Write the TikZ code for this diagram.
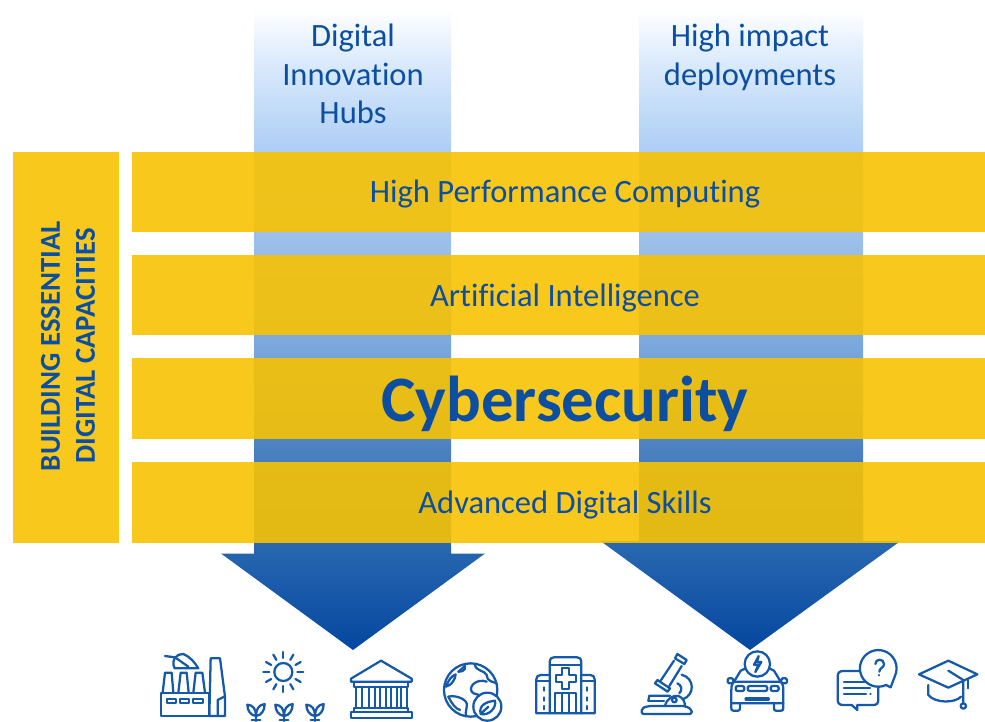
\documentclass[tikz,border=0pt]{standalone}
\usepackage{fontspec}
\setmainfont[Ligatures=NoCommon]{Carlito}
\definecolor{txtblue}{HTML}{0B4EA2}
\definecolor{icon}{HTML}{1559AB}
\definecolor{band}{RGB}{247,194,3}
\definecolor{g0}{HTML}{04479F}
\definecolor{g1}{HTML}{2A68B0}
\definecolor{g2}{HTML}{4A80C0}
\definecolor{g3}{HTML}{7BA8DC}
\definecolor{g4}{HTML}{9ABEE8}
\definecolor{g5}{HTML}{ADCEF5}
\definecolor{g6}{HTML}{DCEBFC}
\pgfdeclareverticalshading{arrowgrad}{100bp}{color(0bp)=(g0); color(25bp)=(g0); color(33.5bp)=(g1); color(40.5bp)=(g2); color(48.8bp)=(g3); color(56.5bp)=(g4); color(64bp)=(g5); color(71bp)=(g6); color(75bp)=(white); color(100bp)=(white)}
\tikzset{
  bandbox/.style={fill=band,fill opacity=0.9,draw=none},
  downarrow/.style={shading=arrowgrad,draw=none},
  txt/.style={text=txtblue,inner sep=0pt,anchor=base},
  small/.style={txt,font=\fontsize{24.4pt}{29pt}\selectfont},
  ic/.style={draw=icon,line width=1.7pt,line cap=round,line join=round},
  cropa/.style={shift={(150,640)},x=0.25pt,y=-0.25pt},
  cropb/.style={shift={(570,640)},x=0.25pt,y=-0.25pt},
  croph/.style={shift={(528,650)},x=0.25pt,y=-0.25pt}
}
\begin{document}
\begin{tikzpicture}[x=0.75pt,y=-0.75pt]
\useasboundingbox (0,0) rectangle (985,721);
% arrows
\path[downarrow] (254,9) -- (451,9) -- (451,553.5) -- (485,553.5) -- (353,650) -- (221,553.5) -- (254,553.5) -- cycle;
\path[downarrow] (639,9) -- (863,9) -- (863,541) -- (900.5,541) -- (750,650) -- (600.5,541) -- (639,541) -- cycle;
% bands
\fill[bandbox] (132,152) rectangle (985,232);
\fill[bandbox] (132,255) rectangle (985,335);
\fill[bandbox] (132,358) rectangle (985,439);
\fill[bandbox] (132,462) rectangle (985,543);
\fill[bandbox] (13,152) rectangle (119,543);
% texts
\node[small,anchor=center,align=center] (dih) at (353,74) {Digital\\Innovation\\Hubs};
\node[small,anchor=center,align=center] (hid) at (750,57) {High impact\\deployments};
\node[small] (hpc) at (565,202.5) {High Performance Computing};
\node[small] (ai) at (565,306.5) {Artificial Intelligence};
\node[txt,font=\fontsize{48.6pt}{50pt}\bfseries\selectfont] (cyber) at (565,421) {Cybersecurity};
\node[small] (skills) at (565,513) {Advanced Digital Skills};
\node[txt,anchor=center,align=center,rotate=90,font=\fontsize{21.6pt}{26.3pt}\bfseries\selectfont] (bedc) at (68,346) {BUILDING ESSENTIAL\\DIGITAL CAPACITIES};
% icons, first crop
\begin{scope}[cropa]
  % factory
  \draw[ic] (32,158) rectangle (178,228);
  \draw[ic] (178,228) -- (182,55) -- (210,55) -- (225,170) -- (225,228) -- cycle;
  \draw[ic] (203,228) -- (203,180) -- (223,170);
  \draw[ic] (38,158) -- (45,98) -- (65,98) -- (70,158);
  \draw[ic] (85,158) -- (92,98) -- (110,98) -- (116,158);
  \draw[ic] (130,158) -- (137,98) -- (157,98) -- (165,158);
  \draw[ic] (50,176) rectangle (78,190);
  \draw[ic] (90,176) rectangle (118,190);
  \draw[ic] (130,176) rectangle (158,190);
  \draw[ic] (74,85) .. controls (62,60) and (80,40) .. (100,42) .. controls (120,50) and (135,68) .. (145,85) -- cycle;
  \draw[ic] (45,48) -- (75,52) -- (115,80);
  % sun and sprouts
  \draw[ic] (400,96) circle (27);
  \foreach \a in {0,30,...,330} \draw[ic] ({400+42*cos(\a)},{96+42*sin(\a)}) -- ({400+60*cos(\a)},{96+60*sin(\a)});
  \foreach \s in {318,402,495}{
    \begin{scope}[xshift=\s*0.25pt]
      \draw[ic] (0,243) -- (0,215);
      \draw[ic] (0,228) .. controls (-16,226) and (-26,212) .. (-26,194) .. controls (-8,195) and (0,208) .. (0,228);
      \draw[ic] (0,228) .. controls (16,226) and (26,212) .. (26,192) .. controls (8,194) and (0,208) .. (0,228);
      \draw[ic] (-13,240) -- (13,240);
    \end{scope}
  }
  % temple
  \draw[ic] (603,116) -- (693,62) -- (785,116) -- (785,125) -- (603,125) -- cycle;
  \draw[ic] (612,125) -- (612,140) -- (775,140) -- (775,125);
  \foreach \c in {628,665,700,731,761}{
    \draw[ic] ({\c-9},140) -- ({\c-9},205);
    \draw[ic] ({\c+9},140) -- ({\c+9},205);
  }
  \draw[ic] (612,205) -- (775,205) -- (775,216) -- (612,216) -- cycle;
  \draw[ic] (603,216) rectangle (785,233);
  % globe
  \draw[ic] (962,150) circle (80);
  \draw[ic] (925,95) -- (945,78);
  \draw[ic] (925,95) .. controls (935,95) and (948,92) .. (945,78);
  \draw[ic] (888,140) .. controls (895,120) and (905,108) .. (917,103) .. controls (915,120) and (905,135) .. (888,140);
  \draw[ic] (895,170) .. controls (915,165) and (945,175) .. (950,190) .. controls (952,205) and (945,215) .. (948,228);
  \draw[ic] (895,170) .. controls (905,190) and (915,205) .. (930,210);
  \draw[ic] (975,72) .. controls (975,95) and (1005,90) .. (1010,105) .. controls (1010,125) and (1030,125) .. (1040,130);
  \draw[ic] (1010,125) .. controls (985,115) and (955,135) .. (965,155) .. controls (972,165) and (985,160) .. (995,170);
  \draw[ic,fill=white] (1012,200) circle (42);
  \draw[ic] (992,222) .. controls (985,195) and (1010,185) .. (1035,182) .. controls (1040,205) and (1015,228) .. (992,222) -- (1015,200);
\end{scope}
% hospital
\begin{scope}[croph]
  \draw[ic] (65,190) -- (65,35) .. controls (65,26) and (70,22) .. (78,22) -- (147,22) .. controls (155,22) and (160,26) .. (160,35) -- (160,190) -- cycle;
  \draw[ic] (65,45) -- (160,45);
  \draw[ic] (65,190) -- (25,190) -- (25,88) .. controls (25,80) and (30,75) .. (38,75) -- (65,75);
  \draw[ic] (160,75) -- (187,75) .. controls (195,75) and (200,80) .. (200,88) -- (200,190) -- (160,190);
  \draw[ic] (25,92) -- (65,92);
  \draw[ic] (160,92) -- (200,92);
  \draw[ic] (103,55) -- (124,55) -- (124,76) -- (145,76) -- (145,97) -- (124,97) -- (124,118) -- (103,118) -- (103,97) -- (83,97) -- (83,76) -- (103,76) -- cycle;
  \draw[ic] (81,190) -- (81,130) -- (145,130) -- (145,190);
  \draw[ic] (103,130) -- (103,190);
  \draw[ic] (124,130) -- (124,190);
  \foreach \y in {112,142,168}{
    \draw[ic] (48,\y) -- (48,\y+10);
    \draw[ic] (177,\y) -- (177,\y+10);
  }
\end{scope}
\begin{scope}[cropb]
  % microscope
  \draw[ic,rounded corners=1.5pt] (215,222) -- (215,205) -- (235,198) -- (345,198) -- (365,208) -- (365,222) -- cycle;
  \draw[ic] (285,198) .. controls (290,175) and (310,165) .. (325,168) .. controls (338,172) and (345,185) .. (345,198);
  \draw[ic] (313,180) circle (7);
  \draw[ic] (235,182) -- (238,167) -- (300,167);
  \draw[ic] (235,182) -- (282,182);
  \draw[ic] (322,42) -- (350,60) -- (343,72) -- (315,55) -- cycle;
  \draw[ic] (312,62) -- (272,122);
  \draw[ic] (335,78) -- (298,138);
  \draw[ic] (262,120) -- (300,145) -- (293,155) -- (255,130) -- cycle;
  \draw[ic] (335,104) .. controls (375,115) and (375,165) .. (338,178);
  \draw[ic] (322,130) .. controls (335,135) and (338,150) .. (328,160);
  % car
  \draw[ic] (562,72) circle (38);
  \draw[ic] (566,48) -- (552,74) -- (565,74) -- (556,96) -- (574,66) -- (561,66) -- cycle;
  \draw[ic] (492,125) -- (512,92) -- (527,85);
  \draw[ic] (632,125) -- (612,92) -- (598,85);
  \draw[ic] (492,125) .. controls (484,135) and (484,140) .. (484,150) -- (484,190) -- (640,190) -- (640,150) .. controls (640,140) and (640,135) .. (632,125) -- cycle;
  \draw[ic,rounded corners=1pt] (473,115) rectangle (490,130);
  \draw[ic,rounded corners=1pt] (634,115) rectangle (651,130);
  \draw[ic,rounded corners=1.5pt] (497,138) rectangle (523,153);
  \draw[ic,rounded corners=1.5pt] (533,138) rectangle (592,153);
  \draw[ic,rounded corners=1.5pt] (602,138) rectangle (626,153);
  \draw[ic,line width=2.4pt] (528,177) -- (595,177);
  \draw[ic] (484,190) -- (484,205) .. controls (484,210) and (486,212) .. (490,212) -- (503,212) .. controls (507,212) and (510,210) .. (510,205) -- (510,190);
  \draw[ic] (612,190) -- (612,205) .. controls (612,210) and (614,212) .. (618,212) -- (633,212) .. controls (637,212) and (640,210) .. (640,205) -- (640,190);
  % speech
  \draw[ic] (868,93) -- (820,93) .. controls (808,93) and (803,98) .. (803,110) -- (803,178) .. controls (803,190) and (808,195) .. (820,195) -- (845,195) -- (862,210) -- (862,195) -- (910,195) .. controls (920,195) and (925,190) .. (925,178) -- (925,140);
  \draw[ic] (822,125) -- (885,125);
  \draw[ic] (822,143) -- (900,143);
  \draw[ic] (822,162) -- (888,162);
  \draw[ic] (901,162) -- (902,162);
  \draw[ic] (948,135) arc [start angle=65,end angle=385,radius=55] -- (962,142) -- cycle;
  \draw[ic] (916,72) .. controls (916,55) and (942,55) .. (942,72) .. controls (942,85) and (928,82) .. (928,95);
  \draw[ic] (928,105) -- (928,106);
  % cap
  \draw[ic] (1047,103) -- (1135,62) -- (1222,103) -- (1135,143) -- cycle;
  \draw[ic] (1075,135) -- (1075,165) .. controls (1095,190) and (1155,190) .. (1173,170);
  \draw[ic] (1135,92) -- (1180,120) -- (1180,190);
  \draw[ic] (1195,120) -- (1195,145);
  \draw[ic] (1180,198) circle (8);
\end{scope}
\end{tikzpicture}
\end{document}
